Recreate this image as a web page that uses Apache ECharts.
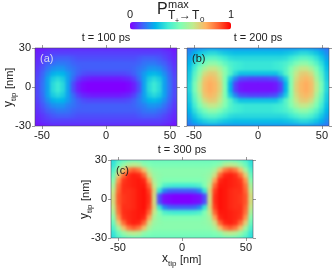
<!DOCTYPE html>
<html><head><meta charset="utf-8">
<script src="https://cdn.jsdelivr.net/npm/echarts@6/dist/echarts.min.js"></script>
<style>html,body{margin:0;padding:0;background:#fff}#c{width:332px;height:269px}</style>
</head><body><div id="c"></div>
<script>
// Quarter-panel readings; the maps are mirror-symmetric in x and y.
const xCells = [2,6,10,14,18,22,26,30,34,38,42,46,50,54];
const yCells = [30,26,22,18,14,10,6,2];
const panelA = [
 [.05,.05,.05,.05,.05,.05,.05,.05,.05,.05,.05,.04,.03,.02],
 [.08,.08,.08,.08,.08,.08,.08,.08,.08,.08,.08,.07,.06,.04],
 [.10,.10,.10,.10,.10,.10,.11,.12,.12,.12,.11,.09,.07,.05],
 [.12,.12,.12,.12,.12,.12,.13,.15,.16,.16,.14,.12,.09,.06],
 [.12,.12,.12,.12,.12,.13,.15,.17,.20,.20,.19,.15,.11,.07],
 [.09,.09,.09,.09,.10,.12,.16,.21,.25,.26,.24,.19,.13,.08],
 [.03,.03,.03,.04,.05,.08,.14,.22,.30,.33,.30,.22,.14,.09],
 [.00,.00,.00,.00,.01,.04,.10,.22,.33,.37,.33,.22,.15,.09]];
const panelB = [
 [.20,.20,.20,.20,.20,.20,.20,.20,.21,.21,.20,.19,.17,.15],
 [.27,.27,.27,.27,.27,.28,.29,.31,.33,.33,.31,.28,.24,.19],
 [.33,.33,.33,.33,.33,.34,.37,.40,.43,.43,.40,.35,.29,.22],
 [.36,.36,.36,.37,.38,.40,.44,.49,.53,.53,.48,.42,.34,.25],
 [.36,.36,.36,.37,.38,.42,.50,.58,.63,.63,.58,.49,.38,.27],
 [.28,.28,.28,.28,.33,.42,.52,.63,.69,.70,.66,.54,.42,.29],
 [.08,.08,.09,.10,.18,.30,.50,.66,.72,.74,.71,.58,.45,.30],
 [.02,.02,.02,.03,.08,.25,.50,.68,.74,.76,.73,.62,.48,.32]];
const panelC = [
 [.46,.46,.46,.46,.46,.46,.46,.46,.47,.47,.46,.44,.40,.34],
 [.49,.49,.49,.49,.49,.49,.50,.53,.60,.62,.60,.54,.46,.36],
 [.52,.52,.52,.52,.52,.53,.58,.72,.84,.88,.84,.72,.57,.41],
 [.52,.52,.52,.52,.53,.55,.66,.87,.95,.96,.94,.86,.70,.46],
 [.50,.50,.50,.50,.52,.58,.78,.95,.97,.96,.95,.93,.80,.52],
 [.38,.38,.39,.41,.50,.63,.87,.97,.97,.96,.95,.94,.85,.58],
 [.12,.12,.13,.18,.36,.68,.92,.98,.97,.95,.94,.94,.87,.63],
 [.00,.00,.01,.02,.10,.66,.94,.98,.97,.95,.94,.93,.89,.66]];
const panelTitles = ['t = 100 ps','t = 200 ps','t = 300 ps'];
const panelTags = ['(a)','(b)','(c)'];
const panelData = [panelA,panelB,panelC];
const xTicks = [-50,0,50];
const yTicks = [-30,0,30];
const barColors = ['#8000ff','#4062fa','#00b5eb','#40ecd4','#80ffb4','#c0eb8d','#ffb462','#ff6231','#ff0000'];

const boxes = [{l:35,t:48,w:142,h:78},{l:187,t:48,w:142,h:78},{l:111,t:160,w:142,h:78}];
const font = 'Liberation Sans';
const mirror = p => {
  const out = [];
  yCells.forEach((y,r) => xCells.forEach((x,c) => {
    [[1,1],[-1,1],[1,-1],[-1,-1]].forEach(s => out.push([s[0]*x, s[1]*y, p[r][c]]));
  }));
  return out;
};
const xMax = 55.5, yMax = 30;
const grid = [], xAxis = [], yAxis = [], series = [], title = [], graphic = [];
const tickStyle = {length:3, lineStyle:{color:'#999',width:1}};
boxes.forEach((b,i) => {
  grid.push({left:b.l, top:b.t, width:b.w, height:b.h, show:true, zlevel:1, z:5,
    backgroundColor:'transparent', borderColor:'rgba(70,70,90,.55)', borderWidth:1});
  ['bottom','top'].forEach(pos => xAxis.push({type:'value', gridIndex:i, position:pos, min:-xMax, max:xMax, zlevel:1,
    axisLine:{show:false,onZero:false}, splitLine:{show:false},
    axisTick:Object.assign({show:true, customValues:xTicks}, tickStyle),
    axisLabel:{show:pos==='bottom', customValues:xTicks, margin:4, fontFamily:font, fontSize:11, color:'#222',
      showMinLabel:true, showMaxLabel:true}}));
  ['left','right'].forEach(pos => yAxis.push({type:'value', gridIndex:i, position:pos, min:-yMax, max:yMax, zlevel:1,
    axisLine:{show:false,onZero:false}, splitLine:{show:false},
    axisTick:Object.assign({show:true, customValues:yTicks}, tickStyle),
    axisLabel:{show:pos==='left' && i!==1, customValues:yTicks, margin:4, fontFamily:font, fontSize:11, color:'#222',
      showMinLabel:true, showMaxLabel:true}}));
  series.push({type:'custom', name:panelTitles[i], xAxisIndex:2*i, yAxisIndex:2*i, zlevel:0, silent:true, clip:false,
    coordinateSystem:'cartesian2d', encode:{x:0,y:1},
    data:mirror(panelData[i]),
    renderItem:(params,api) => {
      const x = api.value(0), y = api.value(1);
      const gx = Math.abs(x)===54 ? 8 : 2, gy = Math.abs(y)===30 ? 8 : 2;
      const a = api.coord([x<0 ? x-gx : x-2, y>0 ? y+gy : y+2]);
      const z = api.coord([x>0 ? x+gx : x+2, y<0 ? y-gy : y-2]);
      return {type:'rect', shape:{x:a[0]-.4,y:a[1]-.4,width:z[0]-a[0]+.8,height:z[1]-a[1]+.8},
        style:{fill:api.visual('color')}};
    }});
  title.push({text:panelTitles[i], left:b.l+b.w/2, top:b.t-16, textAlign:'center', zlevel:1, padding:0,
    textStyle:{fontFamily:font,fontSize:11,fontWeight:'normal',color:'#222'}});
  graphic.push({type:'text', zlevel:1, x:b.l+5, y:b.t+5, style:{text:panelTags[i], font:'11px '+font, fill:i===0?'#d8d8f0':'#222'}});
});
const tx = (t,x,y,size) => ({type:'text', zlevel:1, x, y, style:{text:t, font:size+'px '+font, fill:'#222', verticalAlign:'bottom'}});
// rotated y labels, written bottom to top
[0,2].forEach(i => {
  const b = boxes[i];
  const base = i===2 ? b.l-20 : 15;
  const ly = b.t+b.h/2+20;
  graphic.push({type:'group', x:base, y:ly, rotation:Math.PI/2, children:[
    tx('y',0,0,12), tx('tip',6,3,8), tx('[nm]',18,0,11)]});
});
graphic.push({type:'group', x:162, y:265, children:[tx('x',0,0,12), tx('tip',6,3,8), tx('[nm]',18,0,11)]});
// colour-bar heading
graphic.push(tx('P',157,18,16), tx('max',168,10,11), tx('T',168,22,12), tx('+',175,25,7), tx('\u2192',179,22,12), tx('T',192,22,12), tx('0',200,24,8));
graphic.push(tx('0',127,20,11), tx('1',228,20,11));

const chart = echarts.init(document.getElementById('c'),null,{renderer:'canvas'});
chart.setOption({animation:false, backgroundColor:'transparent', grid, xAxis, yAxis, series, title, graphic,
  visualMap:{type:'continuous', min:0, max:1, seriesIndex:[0,1,2], dimension:2, orient:'horizontal',
    left:130, top:22, padding:0, itemWidth:7.5, itemHeight:101, itemGap:0, calculable:false, realtime:false, hoverLink:false, zlevel:1,
    showLabel:false, inRange:{color:barColors}}});
const cv = document.querySelectorAll('#c canvas')[0];
cv.style.filter = 'blur(1.6px)';
cv.style.clipPath = "path('" + boxes.map(b=>`M${b.l} ${b.t}H${b.l+b.w}V${b.t+b.h}H${b.l}Z`).join(' ') + "')";
</script></body></html>
